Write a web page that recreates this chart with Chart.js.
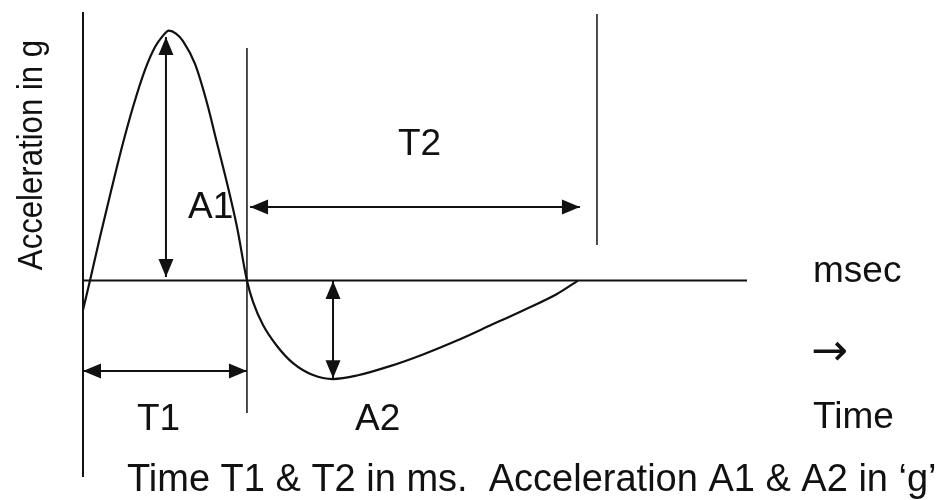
<!DOCTYPE html>
<html>
<head>
<meta charset="utf-8">
<script src="https://cdn.jsdelivr.net/npm/chart.js@4.4.1/dist/chart.umd.min.js"></script>
<style>
  html, body { margin: 0; padding: 0; background: #fff; }
  #wrap { width: 941px; height: 500px; position: relative; }
</style>
</head>
<body>
<div id="wrap"><canvas id="c"></canvas></div>
<script>
// ---- Data (time in arbitrary ms units, acceleration in arbitrary g units) ----
const curveTime  = [0, 0.427, 1.037, 1.769, 2.44, 3.05, 3.782, 4.392, 4.819, 5.246, 5.673, 6.10, 6.832, 7.563,
                    8.173, 8.783, 9.393, 10.0, 10.37, 10.98, 11.83, 12.81, 14.03, 15.25, 16.71, 18.73, 20.74,
                    22.81, 24.82, 26.84, 28.91, 30.19];
const curveAccel = [-11.8, 0, 17.5, 37.6, 55.3, 69.8, 84.7, 93.9, 98.0, 100.5, 99.3, 96.3, 87.1, 71.4,
                    55.3, 39.2, 21.5, 0, -8.6, -17.9, -26.3, -33.2, -38.0, -39.6, -38.2, -34.4, -29.7,
                    -24.1, -18.1, -12.0, -5.4, 0];

const xRange = [0, 40.5];
const yRange = [-79, 108];

// guide lines: [x1, y1, x2, y2]
const zeroLine   = [0, 0, 40.5, 0];
const leftAxis   = [0, -79, 0, 108];
const t1EndLine  = [10, -53.3, 10, 93.5];
const t2EndLine  = [31.35, 14.3, 31.35, 107.2];

// double-headed arrows: [x1, y1, x2, y2]
const arrowA1 = [5.06, 97.9, 5.06, 1.4];
const arrowA2 = [15.25, -0.2, 15.25, -39.3];
const arrowT1 = [0, -36.4, 10, -36.4];
const arrowT2 = [10.19, 29.6, 30.31, 29.6];
const arrows = [arrowA1, arrowA2, arrowT1, arrowT2];

// labels
const yTitle = 'Acceleration in g';
const xTitle = 'Time T1 & T2 in ms.  Acceleration A1 & A2 in \u2018g\u2019';
const labelA1 = 'A1', labelA2 = 'A2', labelT1 = 'T1', labelT2 = 'T2';
const unitLabels = ['msec', '\u2192', 'Time'];

const INK = '#111';

function seg(s) { return [{x: s[0], y: s[1]}, {x: s[2], y: s[3]}]; }
function lineDs(s, w) {
  return { data: seg(s), borderColor: INK, borderWidth: w, pointRadius: 0, showLine: true, clip: false, tension: 0 };
}

const datasets = [
  {
    data: curveTime.map((t, i) => ({x: t, y: curveAccel[i]})),
    borderColor: INK, borderWidth: 2.2, pointRadius: 0, showLine: true,
    cubicInterpolationMode: 'monotone', clip: false
  },
  lineDs(zeroLine, 2),
  lineDs(leftAxis, 2),
  lineDs(t1EndLine, 1.5),
  lineDs(t2EndLine, 1.5),
  ...arrows.map(a => lineDs(a, 2))
];

const decor = {
  id: 'decor',
  afterDatasetsDraw(chart) {
    const ctx = chart.ctx;
    const xs = chart.scales.x, ys = chart.scales.y;
    const P = (x, y) => [xs.getPixelForValue(x), ys.getPixelForValue(y)];
    ctx.save();
    ctx.fillStyle = INK;
    // arrow heads
    const head = (tip, from) => {
      const dx = tip[0] - from[0], dy = tip[1] - from[1];
      const L = Math.hypot(dx, dy), ux = dx / L, uy = dy / L;
      const len = 18, hw = 7.5;
      const bx = tip[0] - ux * len, by = tip[1] - uy * len;
      ctx.beginPath();
      ctx.moveTo(tip[0], tip[1]);
      ctx.lineTo(bx - uy * hw, by + ux * hw);
      ctx.lineTo(bx + uy * hw, by - ux * hw);
      ctx.closePath();
      ctx.fill();
    };
    arrows.forEach(a => {
      const p1 = P(a[0], a[1]), p2 = P(a[2], a[3]);
      head(p1, p2); head(p2, p1);
    });
    // texts
    ctx.textBaseline = 'alphabetic';
    ctx.textAlign = 'left';
    ctx.font = '37px "Liberation Sans", Arial, sans-serif';
    ctx.fillText(labelT2, 398, 155);
    ctx.fillText(labelA1, 188, 218);
    ctx.fillText(labelT1, 137, 430);
    ctx.fillText(labelA2, 355, 430);
    ctx.fillText(unitLabels[0], 813, 282);
    ctx.fillText(unitLabels[2], 813, 428);
    ctx.font = '44px "DejaVu Sans", sans-serif';
    ctx.fillText(unitLabels[1], 811, 365);
    ctx.font = '38px "Liberation Sans", Arial, sans-serif';
    ctx.fillText(xTitle, 127, 491);
    // rotated y title
    ctx.save();
    ctx.translate(42, 155);
    ctx.rotate(-Math.PI / 2);
    ctx.scale(0.89, 1);
    ctx.textAlign = 'center';
    ctx.font = '35px "Liberation Sans", Arial, sans-serif';
    ctx.fillText(yTitle, 0, 0);
    ctx.restore();
    ctx.restore();
  }
};

new Chart(document.getElementById('c'), {
  type: 'scatter',
  data: { datasets },
  options: {
    responsive: true,
    maintainAspectRatio: false,
    animation: false,
    layout: { padding: { left: 83, right: 194, top: 12, bottom: 23 } },
    plugins: { legend: { display: false }, tooltip: { enabled: false } },
    scales: {
      x: { type: 'linear', min: xRange[0], max: xRange[1], display: false },
      y: { type: 'linear', min: yRange[0], max: yRange[1], display: false }
    }
  },
  plugins: [decor]
});
</script>
</body>
</html>
